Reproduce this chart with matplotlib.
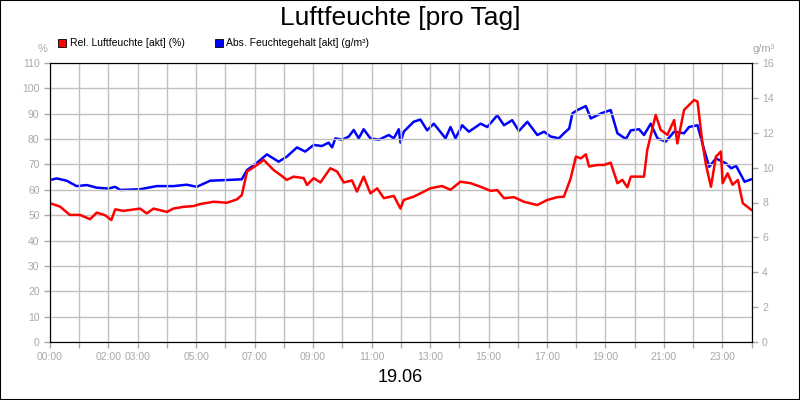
import matplotlib
matplotlib.use("Agg")
import matplotlib.pyplot as plt
from matplotlib.patches import Rectangle

plt.rcParams["font.family"] = "Liberation Sans"

rel_t = [0.0,0.34,0.68,1.03,1.37,1.6,1.88,2.1,2.23,2.51,3.08,3.31,3.54,4.0,4.22,4.57,4.91,5.14,5.6,6.05,6.39,6.56,6.74,7.08,7.31,7.65,7.88,8.1,8.33,8.68,8.79,9.02,9.25,9.59,9.82,10.05,10.33,10.5,10.73,10.96,11.19,11.42,11.76,11.99,
         12.1,12.44,12.67,13.01,13.41,13.7,14.04,14.39,14.73,15.07,15.3,15.53,15.87,16.21,16.67,17.01,17.35,17.58,17.81,17.99,18.16,18.33,18.44,18.73,18.95,19.18,19.41,19.58,19.75,19.87,20.32,20.43,20.72,20.89,21.12,21.35,21.46,21.69,22.03,22.15,22.32,22.44,22.61,22.78,22.95,23.01,23.18,23.35,23.53,23.7,23.99]
rel_v = [54.7,53.4,50.1,50.1,48.4,51,50,48.1,52.3,51.7,52.6,50.7,52.6,51.3,52.6,53.3,53.6,54.4,55.3,54.9,56.2,57.9,67.2,69.8,71.8,67.8,65.9,63.9,65.2,64.6,61.9,64.6,62.9,68.5,67.2,62.9,63.7,59.3,65.2,58.6,60.6,56.7,57.6,52.6,
         56,57.3,58.6,60.6,61.5,60,63.2,62.6,61.2,59.6,59.9,56.7,57.1,55.3,54,56,57.1,57.3,64.5,73.1,72.4,74.0,69.2,69.8,69.8,70.7,62.6,63.9,61,65.2,65.2,75.7,89.5,83.6,81.7,87.5,78.3,91.5,95.4,94.8,78.3,69.8,61.2,73.1,75.1,62.6,66.5,62,63.9,54.7,52.1]

abs_t = [0.0,0.23,0.57,0.91,1.26,1.6,2.0,2.23,2.4,3.08,3.65,4.22,4.68,5.02,5.48,6.05,6.56,6.74,7.08,7.42,7.82,8.1,8.45,8.73,9.02,9.3,9.53,9.65,9.76,9.99,10.22,10.39,10.56,10.73,10.96,11.25,11.59,11.76,11.93,11.99,
         12.1,12.44,12.67,12.9,13.13,13.53,13.7,13.87,14.1,14.33,14.73,14.96,15.3,15.53,15.81,16.04,16.33,16.67,16.9,17.13,17.41,17.58,17.76,17.87,18.04,18.33,18.5,18.85,19.18,19.41,19.7,19.87,20.15,20.32,20.55,20.78,21.06,21.35,21.69,21.86,22.15,22.38,22.55,22.78,23.13,23.3,23.47,23.76,23.99]
abs_v = [9.29,9.38,9.25,8.94,9.0,8.85,8.8,8.9,8.72,8.76,8.94,8.94,9.02,8.9,9.25,9.29,9.33,9.86,10.28,10.76,10.34,10.63,11.16,10.92,11.3,11.24,11.43,11.16,11.68,11.6,11.78,12.16,11.68,12.2,11.68,11.6,11.87,11.68,12.2,11.43,
         12.06,12.63,12.76,12.14,12.52,11.68,12.33,11.68,12.43,12.06,12.52,12.33,13.0,12.43,12.72,12.1,12.63,11.87,12.06,11.78,11.68,11.97,12.24,13.11,13.3,13.53,12.82,13.11,13.3,11.97,11.64,12.14,12.2,11.87,12.52,11.68,11.49,12.06,11.97,12.33,12.43,11.0,10.05,10.53,10.24,9.96,10.1,9.19,9.33]

tick_hours = [0,2,3,5,7,9,11,13,15,17,19,21,23]
tick_labels = ["00:00","02:00","03:00","05:00","07:00","09:00","11:00","13:00","15:00","17:00","19:00","21:00","23:00"]

grey = "#a8a8a8"
fig = plt.figure(figsize=(8, 4), dpi=100)
fig.patches.append(Rectangle((0, 0), 1, 1, transform=fig.transFigure, fill=False,
                             edgecolor="black", linewidth=1.5))
ax = fig.add_axes([0.0625, 0.145, 0.877, 0.6975])
ax2 = ax.twinx()

ax.set_xlim(0, 24)
ax.set_ylim(0, 110)
ax2.set_ylim(0, 16)
ax.set_xticks(range(25), minor=True)
ax.set_xticks(tick_hours)
ax.set_xticklabels(tick_labels)
ax.set_yticks(range(0, 111, 10))
ax2.set_yticks(range(0, 17, 2))
ax.grid(True, which="both", axis="x", color="#c0c0c0", linewidth=1)
ax.grid(True, axis="y", color="#c0c0c0", linewidth=1)
ax.set_axisbelow(True)

for a in (ax, ax2):
    a.tick_params(colors=grey, labelsize=7.5, length=4, width=1, which="both")
    a.tick_params(axis="x", which="minor", length=4)
    for s in a.spines.values():
        s.set_color("black")

ax2.plot(abs_t, abs_v, color="#0000ff", linewidth=1.8)
ax.plot(rel_t, rel_v, color="#ff0000", linewidth=1.8)
ax.set_zorder(ax2.get_zorder() + 1)
ax.patch.set_visible(False)

fig.text(0.5, 0.955, "Luftfeuchte [pro Tag]", ha="center", va="center", fontsize=19)
fig.text(0.5, 0.055, "19.06", ha="center", va="center", fontsize=13)
fig.text(0.053, 0.878, "%", ha="center", va="center", fontsize=8, color=grey)
fig.text(0.955, 0.878, "g/m³", ha="center", va="center", fontsize=8, color=grey)

fig.patches.append(Rectangle((0.073, 0.883), 0.01, 0.02, transform=fig.transFigure,
                             facecolor="#ff0000", edgecolor="black", linewidth=0.6))
fig.text(0.087, 0.893, "Rel. Luftfeuchte [akt] (%)", va="center", fontsize=7.5)
fig.patches.append(Rectangle((0.269, 0.883), 0.01, 0.02, transform=fig.transFigure,
                             facecolor="#0000ff", edgecolor="black", linewidth=0.6))
fig.text(0.283, 0.893, "Abs. Feuchtegehalt [akt] (g/m³)", va="center", fontsize=7.5)

fig.savefig("out.png", dpi=100)
